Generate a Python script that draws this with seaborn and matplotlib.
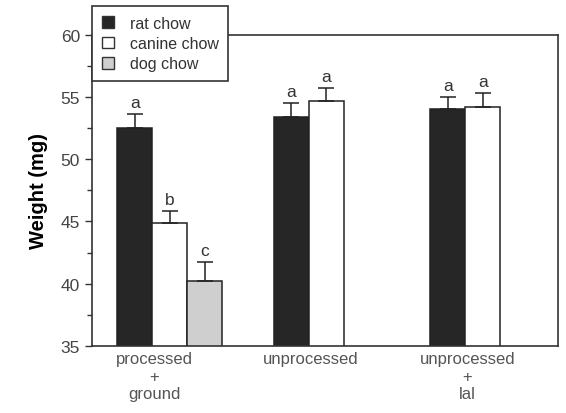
import matplotlib
matplotlib.use('Agg')
import matplotlib.pyplot as plt
import matplotlib.patches as mpatches
from matplotlib.ticker import MultipleLocator
import pandas as pd
import seaborn as sns

# Data
groups = ['processed\n+\nground', 'unprocessed', 'unprocessed\n+\nlal']
diets = ['rat chow', 'canine chow', 'dog chow']
rat_chow = [52.5, 53.4, 54.0]
canine_chow = [44.9, 54.7, 54.2]
dog_chow = [40.2]            # only measured for the first group
rat_err = [1.1, 1.1, 1.0]
canine_err = [0.95, 1.0, 1.1]
dog_err = [1.5]
rat_sig = ['a', 'a', 'a']
canine_sig = ['b', 'a', 'a']
dog_sig = ['c']

colors = {'rat chow': '#262626', 'canine chow': '#ffffff', 'dog chow': '#cfcfcf'}

rows = []
for vals, errs, sigs, diet in [(rat_chow, rat_err, rat_sig, 'rat chow'),
                               (canine_chow, canine_err, canine_sig, 'canine chow'),
                               (dog_chow, dog_err, dog_sig, 'dog chow')]:
    for g, v, e, s in zip(groups, vals, errs, sigs):
        rows.append({'group': g, 'diet': diet, 'weight': v, 'err': e, 'sig': s})
df = pd.DataFrame(rows)

sns.set_style('ticks')
plt.rcParams['font.family'] = ['Liberation Sans', 'DejaVu Sans']

fig = plt.figure(figsize=(5.66, 4.14), dpi=100)
ax = fig.add_axes([0.1625, 0.162, 0.823, 0.752])

sns.barplot(data=df, x='group', y='weight', hue='diet', order=groups, hue_order=diets,
            palette=colors, width=0.67, errorbar=None, edgecolor='#222222',
            linewidth=1.1, ax=ax, legend=False)

# error bars (upper only) and significance letters
for diet, cont in zip(diets, ax.containers):
    sub = df[df['diet'] == diet].set_index('group').reindex(groups).dropna()
    for bar, (_, r) in zip(cont, sub.iterrows()):
        xc = bar.get_x() + bar.get_width() / 2
        top = bar.get_height() + bar.get_y()
        ax.errorbar(xc, top, yerr=[[0], [r['err']]], color='#222222',
                    elinewidth=1.1, capsize=6, capthick=1.1)
        ax.annotate(r['sig'], (xc, top + r['err']), xytext=(0, 3),
                    textcoords='offset points', ha='center', va='bottom',
                    fontsize=12.5, color='#333333')

ax.set_ylim(35, 60)
ax.set_xlim(-0.498, 2.479)
ax.yaxis.set_major_locator(MultipleLocator(5))
ax.yaxis.set_minor_locator(MultipleLocator(2.5))
ax.tick_params(axis='y', which='major', direction='out', length=5, width=1,
               labelsize=12.5, labelcolor='#444444', color='#333333')
ax.tick_params(axis='y', which='minor', direction='out', length=3.5, width=1,
               color='#333333')
ax.set_xticks([i - 0.1 for i in range(len(groups))])
ax.set_xticklabels(groups, fontsize=12, color='#555555', linespacing=1.2)
ax.tick_params(axis='x', length=0, pad=4)
ax.set_xlabel('')
ax.set_ylabel('Weight (mg)', fontsize=14.5, fontweight='bold', color='black', labelpad=9)

for s in ax.spines.values():
    s.set_visible(True)
    s.set_linewidth(1.2)
    s.set_color('#333333')

handles = [mpatches.Patch(facecolor=colors[d], edgecolor='#333333', linewidth=1) for d in diets]
leg = ax.legend(handles, diets, loc='upper left', bbox_to_anchor=(0.0, 1.091),
                fontsize=11.5, frameon=True, fancybox=False, framealpha=1,
                edgecolor='#333333', handlelength=0.75, handleheight=0.75,
                handletextpad=1.0, labelspacing=0.33, borderpad=0.6,
                borderaxespad=0)
leg.get_frame().set_linewidth(1.2)
for t in leg.get_texts():
    t.set_color('#333333')

fig.savefig('out.png', dpi=100)
